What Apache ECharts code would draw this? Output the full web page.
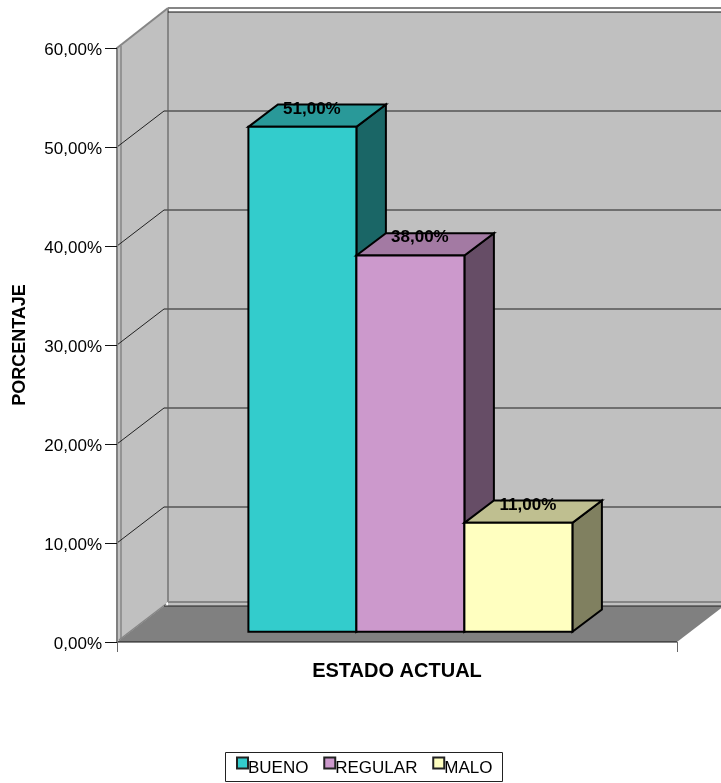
<!DOCTYPE html>
<html>
<head>
<meta charset="utf-8">
<style>html,body{margin:0;padding:0;background:#fff}#c{width:721px;height:783px}</style>
<script src="https://cdn.jsdelivr.net/npm/echarts@6/dist/echarts.min.js"></script>
</head>
<body>
<div id="c"></div>
<script>
const seriesNames = ['BUENO', 'REGULAR', 'MALO'];
const seriesValues = [51, 38, 11];
const yMax = 60, yStep = 10;
const gridTicks = [0, 10, 20, 30, 40, 50, 60];
const colors = {
  BUENO:   { front: '#33CCCC', top: '#299999', side: '#1A6666' },
  REGULAR: { front: '#CC99CC', top: '#A37AA3', side: '#664D66' },
  MALO:    { front: '#FFFFC0', top: '#BFBF90', side: '#808060' }
};
const FONT = '"Liberation Sans", Arial, sans-serif';
const DEPTH = [47, -36];      // full depth of the 3D box
const BAR_START = 0.285;      // bar front plane, fraction of depth
const BAR_DEPTH = [29.5, -22.3];
const BAR_W_FRAC = 108 / 560;
const fmt = v => v.toFixed(2).replace('.', ',') + '%';

const chart = echarts.init(document.getElementById('c'), null, { renderer: 'canvas' });

function poly(points, fill, stroke, w) {
  return { type: 'polygon', shape: { points }, style: { fill, stroke: stroke || null, lineWidth: w || 0 } };
}
function line(a, b, stroke, w) {
  return { type: 'line', shape: { x1: a[0], y1: a[1], x2: b[0], y2: b[1] }, style: { stroke, lineWidth: w } };
}

function renderWalls(params, api) {
  const bw = api.size([1, 0])[0];
  const c = api.coord([0, 0]);
  const x0 = c[0] - bw / 2, x1 = c[0] + bw / 2;
  const y0 = c[1], yT = api.coord([0, yMax])[1];
  const bx = x0 + DEPTH[0], by = y0 + DEPTH[1], byT = yT + DEPTH[1];
  const ch = [];
  const W = '#C0C0C0', G = '#868686';
  // back wall
  ch.push({ type: 'rect', shape: { x: bx + 4, y: byT - 4, width: bw + 10, height: by - byT + 4 }, style: { fill: W } });
  // white sliver above the top gridline
  ch.push({ type: 'rect', shape: { x: bx + 4, y: byT - 3, width: bw + 10, height: 3 }, style: { fill: '#fff' } });
  // side wall
  ch.push(poly([[x0, yT], [bx + 4, byT - 4], [bx + 4, by - 4], [x0, y0]], W));
  // floor
  ch.push(poly([[x0, y0], [x1, y0], [x1 + DEPTH[0], by], [bx, by]], '#808080'));
  // wall outlines
  ch.push(line([bx + 4, byT - 4], [x1 + DEPTH[0] + 10, byT - 4], G, 2));
  ch.push(line([bx + 4, by - 4], [x1 + DEPTH[0] + 10, by - 4], G, 2));
  ch.push(line([bx + 4, byT - 4], [bx + 4, by - 4], G, 2));
  ch.push(line([x0, yT], [bx + 4, byT - 4], G, 2));
  ch.push(line([x0 + 4, yT - 2], [x0 + 4, y0 - 3], G, 1.5));
  ch.push(line([x0 + 2, y0 - 2], [bx + 2, by - 2], G, 1.5));
  // gridlines
  gridTicks.forEach(t => {
    const y = api.coord([0, t])[1];
    if (t > 0 && t < yMax) {
      ch.push(line([x0, y], [bx, y + DEPTH[1]], '#222', 1));
      ch.push(line([bx + 0, y + DEPTH[1]], [x1 + DEPTH[0] + 10, y + DEPTH[1]], '#555', 1.5));
    }
    if (t === yMax) ch.push(line([bx + 4, y + DEPTH[1]], [x1 + DEPTH[0] + 10, y + DEPTH[1]], '#111', 1.2));
    if (t === 0) {
      ch.push(line([bx, y + DEPTH[1]], [x1 + DEPTH[0] + 10, y + DEPTH[1]], '#222', 1));
      ch.push(line([x0, y], [x1, y], '#111', 1));
    }
  });
  return { type: 'group', children: ch, silent: true };
}

function makeRenderBar(index) {
  return function (params, api) {
    const v = api.value(1);
    const bw = api.size([1, 0])[0];
    const barW = bw * BAR_W_FRAC;
    const base = api.coord([0, 0]);
    const top = api.coord([0, v]);
    const off = [DEPTH[0] * BAR_START, DEPTH[1] * BAR_START];
    const gl = base[0] + off[0] - barW * seriesNames.length / 2 + index * barW;
    const l = gl, r = gl + barW, yB = base[1] + off[1], yT = top[1] + off[1];
    const dx = BAR_DEPTH[0], dy = BAR_DEPTH[1];
    const c = colors[seriesNames[index]];
    const K = '#000', lw = 2;
    return {
      type: 'group',
      children: [
        poly([[r, yT], [r + dx, yT + dy], [r + dx, yB + dy], [r, yB]], c.side, K, lw),
        poly([[l, yT], [l + dx, yT + dy], [r + dx, yT + dy], [r, yT]], c.top, K, lw),
        poly([[l, yT], [r, yT], [r, yB], [l, yB]], c.front, K, lw),
        {
          type: 'text', z2: 50,
          style: {
            x: (l + r) / 2 + 9.5, y: yT - 18, text: fmt(v), fill: '#000',
            font: 'bold 17px ' + FONT, align: 'center', verticalAlign: 'middle'
          }
        }
      ]
    };
  };
}

const option = {
  animation: false,
  backgroundColor: '#fff',
  grid: { left: 117, top: 48, width: 560, height: 594, containLabel: false, outerBoundsMode: 'none' },
  graphic: [{
    type: 'rect', left: 225, top: 752, z: 0, silent: true,
    shape: { width: 277, height: 29 },
    style: { fill: '#fff', stroke: '#222', lineWidth: 1 }
  }],
  legend: {
    show: true,
    data: seriesNames,
    left: 236, top: 756.5,
    orient: 'horizontal',
    z: 10,
    padding: 0,
    itemGap: 14.8, itemWidth: 11, itemHeight: 22,
    // square in the upper half of the item, so it sits above the text centre as in the reference
    icon: 'path://M0 0H11V11H0Z M0 22L0 22',
    itemStyle: { borderColor: '#222', borderWidth: 2 },
    textStyle: { fontFamily: FONT, fontSize: 17, color: '#000', padding: [0, 0, 0, -5] }
  },
  xAxis: {
    type: 'category',
    data: ['ESTADO ACTUAL'],
    name: 'ESTADO ACTUAL',
    nameLocation: 'middle',
    nameGap: 19,
    nameTextStyle: { fontFamily: FONT, fontWeight: 'bold', fontSize: 20, color: '#000' },
    axisLine: { show: false },
    axisTick: { show: true, alignWithLabel: false, length: 10, lineStyle: { color: '#666', width: 1 } },
    axisLabel: { show: false },
    splitLine: { show: false },
    z: 5
  },
  yAxis: {
    type: 'value',
    min: 0, max: yMax, interval: yStep,
    name: 'PORCENTAJE',
    nameLocation: 'middle',
    nameGap: 88,
    nameTextStyle: { fontFamily: FONT, fontWeight: 'bold', fontSize: 18, color: '#000' },
    axisLine: { show: true, lineStyle: { color: '#808080', width: 2 } },
    axisTick: { show: true, length: 12, lineStyle: { color: '#111', width: 1 } },
    axisLabel: {
      margin: 15, formatter: v => '{a|' + fmt(v) + '}',
      rich: { a: { fontFamily: FONT, fontSize: 17, color: '#000', padding: [4, 0, 0, 0] } }
    },
    splitLine: { show: false },
    z: 5
  },
  series: [
    {
      type: 'custom', name: 'walls', z: 1, clip: false, silent: true,
      renderItem: renderWalls, data: [[0, 0]], encode: { x: 0, y: 1 }, legendHoverLink: false
    },
  ].concat(seriesNames.map((name, i) => ({
    type: 'custom', name, z: 2 + i, clip: false,
    renderItem: makeRenderBar(i),
    itemStyle: { color: colors[name].front, borderColor: '#000', borderWidth: 1.5 },
    data: [[0, seriesValues[i]]],
    encode: { x: 0, y: 1 }
  })))
};
chart.setOption(option);
</script>
</body>
</html>
